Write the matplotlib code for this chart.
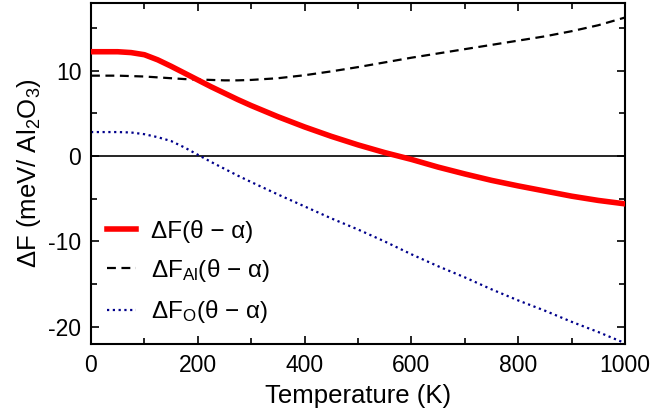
import numpy as np
import matplotlib.pyplot as plt
from matplotlib.ticker import MultipleLocator

plt.rcParams['font.family'] = ['Liberation Sans', 'DejaVu Sans']
plt.rcParams['mathtext.fontset'] = 'custom'
plt.rcParams['mathtext.rm'] = 'Liberation Sans'
plt.rcParams['mathtext.it'] = 'Liberation Sans'
plt.rcParams['axes.unicode_minus'] = False

# temperature grid (K)
temp = [0, 25, 50, 75, 100, 125, 150, 175, 200, 225, 250, 275, 300,
        350, 400, 450, 500, 550, 600, 650, 700, 750, 800, 850, 900, 950, 1000]

# free energy differences (meV / Al2O3)
dF_total = [12.2, 12.2, 12.2, 12.1, 11.85, 11.25, 10.5, 9.7, 8.9, 8.1, 7.35, 6.6, 5.9,
            4.6, 3.4, 2.3, 1.3, 0.4, -0.4, -1.3, -2.1, -2.85, -3.5, -4.1, -4.7, -5.2, -5.6]
dF_al = [9.4, 9.4, 9.4, 9.35, 9.3, 9.2, 9.1, 9.0, 8.95, 8.9, 8.85, 8.85, 8.9,
         9.1, 9.45, 9.9, 10.4, 10.95, 11.5, 12.0, 12.5, 13.0, 13.5, 14.0, 14.6, 15.3, 16.2]
dF_o = [2.8, 2.8, 2.8, 2.75, 2.55, 2.2, 1.75, 1.0, 0.15, -0.7, -1.5, -2.3, -3.05,
        -4.5, -5.9, -7.3, -8.6, -10.0, -11.5, -12.9, -14.2, -15.6, -16.9, -18.1, -19.4, -20.6, -21.9]

fig = plt.figure(figsize=(6.72, 4.19), dpi=100)
ax = fig.add_axes([0.1354, 0.179, 0.7946, 0.8138])

ax.axhline(0, color='black', lw=1.2, zorder=1)
ax.plot(temp, dF_total, color='#ff0000', lw=4.0, label='ΔF(θ − α)', zorder=3)
ax.plot(temp, dF_al, color='black', lw=1.6, dashes=(4, 2.5),
        label='ΔF$_{\\mathrm{Al}}$(θ − α)', zorder=2)
ax.plot(temp, dF_o, color='#00008b', lw=1.6, dashes=(1, 1.6),
        label='ΔF$_{\\mathrm{O}}$(θ − α)', zorder=2)

ax.set_xlim(0, 1000)
ax.set_ylim(-22, 17.9)
ax.xaxis.set_major_locator(MultipleLocator(200))
ax.xaxis.set_minor_locator(MultipleLocator(100))
ax.yaxis.set_major_locator(MultipleLocator(10))
ax.yaxis.set_minor_locator(MultipleLocator(5))
ax.tick_params(which='both', direction='in', top=True, right=True,
               labelsize=16.5, width=1.2)
ax.tick_params(which='major', length=6, pad=7)
ax.tick_params(which='minor', length=4)
for sp in ax.spines.values():
    sp.set_linewidth(1.5)

ax.set_xlabel('Temperature (K)', fontsize=18.5, labelpad=5)
ax.set_ylabel('ΔF (meV/ Al$_{\\mathrm{2}}$O$_{\\mathrm{3}}$)', fontsize=18.5, labelpad=4)

ax.legend(loc='lower left', frameon=False, fontsize=17.5, handlelength=1.2,
          handletextpad=0.6, labelspacing=0.58, borderaxespad=0.0,
          bbox_to_anchor=(0.012, 0.027))

fig.savefig('out.png', dpi=100)
